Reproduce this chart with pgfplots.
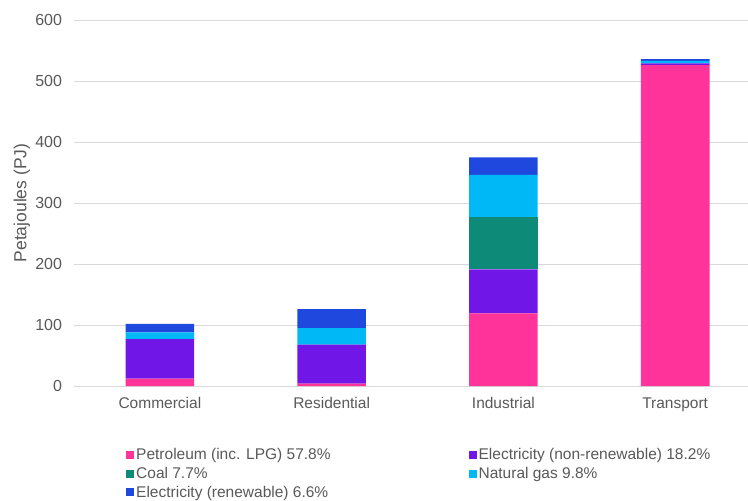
\documentclass[border=0pt]{standalone}
\usepackage{pgfplots}
\pgfplotsset{compat=1.18}
\usepackage{fontspec}
\setmainfont{Liberation Sans}
\definecolor{cpet}{RGB}{255,51,153}
\definecolor{cele}{RGB}{112,22,230}
\definecolor{ccoal}{RGB}{14,138,120}
\definecolor{cgas}{RGB}{0,184,245}
\definecolor{cren}{RGB}{31,72,222}
\definecolor{txt}{RGB}{89,89,89}
\definecolor{gridc}{RGB}{217,217,217}
\newcommand{\tf}{\fontsize{16}{19}\selectfont}
\newcommand{\cf}{\fontsize{15.5}{18.5}\selectfont}
\newcommand{\lf}{\fontsize{15.5}{18.5}\selectfont}
\begin{document}
\begin{tikzpicture}
\begin{axis}[name=ax, scale only axis, width=675pt, height=366pt,
  ybar stacked, bar width=0.4,
  xmin=-0.5, xmax=3.43, ymin=0, ymax=600,
  xtick={0,1,2,3}, xticklabels={Commercial,Residential,Industrial,Transport},
  ytick={0,100,...,600},
  axis lines=left, axis line style={draw=none,-},
  major tick length=0,
  ymajorgrids, grid style={gridc, line width=0.9pt},
  tick label style={text=txt},
  yticklabel style={font=\tf, xshift=-8.5pt},
  xticklabel style={font=\cf, yshift=-8pt},
  /pgf/number format/assume math mode=true,
  ylabel={Petajoules (PJ)},
  ylabel style={font=\fontsize{17.5}{21}\selectfont, text=txt, at={(axis description cs:-0.06,0.5)}, anchor=south},
  legend columns=2,
  legend cell align=left,
  legend style={at={(rel axis cs:0.0726,-0.16)}, anchor=north west, draw=none, font=\lf, text=txt,
    /tikz/every even column/.append style={column sep=136pt}, /tikz/row sep=1.8pt},
  legend image code/.code={\fill[#1] (0pt,-4pt) rectangle (8pt,4pt);},
]
\addplot[fill=cpet, draw=none] coordinates {(0,12) (1,4) (2,119) (3,526)};
\addplot[fill=cele, draw=none] coordinates {(0,65) (1,64) (2,72) (3,3)};
\addplot[fill=ccoal, draw=none] coordinates {(0,0) (1,0) (2,86) (3,0)};
\addplot[fill=cgas, draw=none] coordinates {(0,11) (1,27) (2,69) (3,4)};
\addplot[fill=cren, draw=none] coordinates {(0,14) (1,31) (2,29) (3,3)};
\legend{Petroleum (inc. LPG) 57.8\%, Electricity (non-renewable) 18.2\%, Coal 7.7\%, Natural gas 9.8\%, Electricity (renewable) 6.6\%}
\end{axis}
\pgfresetboundingbox
\path (ax.south west) ++(-74pt,-115pt) rectangle ++(748pt,501pt);
\end{tikzpicture}
\end{document}
